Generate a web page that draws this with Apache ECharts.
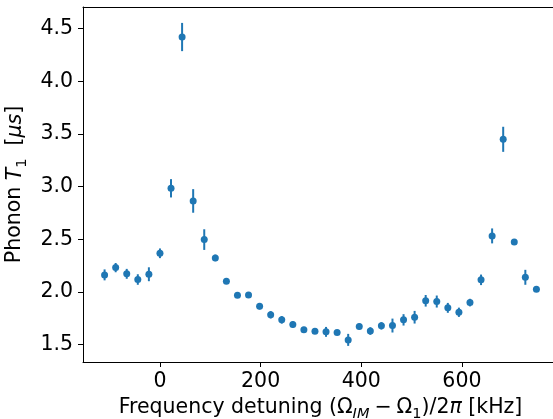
<!DOCTYPE html>
<html>
<head>
<meta charset="utf-8">
<script src="https://cdn.jsdelivr.net/npm/echarts@6/dist/echarts.min.js"></script>
<style>
html,body{margin:0;padding:0;background:#fff;}
#c{width:553px;height:419px;}
</style>
</head>
<body>
<div id="c"></div>
<script>
var detuning = [-110,-88,-66,-44,-22,0,22,44,66,88,110,132,154,176,198,220,242,264,286,308,330,352,374,396,418,440,462,484,506,528,550,572,594,616,638,660,682,704,726,748];
var t1 = [2.163,2.232,2.173,2.119,2.169,2.368,2.985,4.421,2.865,2.498,2.324,2.103,1.970,1.973,1.865,1.784,1.736,1.692,1.641,1.628,1.622,1.616,1.546,1.673,1.630,1.679,1.682,1.736,1.761,1.917,1.910,1.850,1.808,1.900,2.116,2.533,3.450,2.476,2.140,2.027];
var t1Err = [0.052,0.044,0.047,0.05,0.066,0.046,0.087,0.134,0.112,0.098,0.031,0.02,0.01,0.01,0.03,0.035,0.036,0.03,0.028,0.02,0.047,0.02,0.057,0.028,0.036,0.035,0.066,0.054,0.06,0.055,0.057,0.047,0.044,0.036,0.05,0.071,0.119,0.02,0.071,0.015];
var xTicks = [0,200,400,600];
var yTicks = [1.5,2.0,2.5,3.0,3.5,4.0,4.5];

var blue = '#1f77b4';
var font = 'DejaVu Sans';
var FS = 20.5, SFS = 14.5;
var pts = detuning.map(function(x,i){return [x,t1[i]];});
var bars = detuning.map(function(x,i){return [x,t1[i],t1Err[i]];});

var richStyles = {
  n:{fontFamily:font,fontSize:FS,color:'#000',lineHeight:26,verticalAlign:'bottom'},
  m:{fontFamily:font,fontSize:FS,color:'#000',lineHeight:26,verticalAlign:'bottom',padding:[0,5,0,5]},
  i:{fontFamily:font,fontSize:FS,fontStyle:'italic',color:'#000',lineHeight:26,verticalAlign:'bottom'},
  s:{fontFamily:font,fontSize:SFS,color:'#000',lineHeight:20,verticalAlign:'bottom',padding:[0,0,-4,0]},
  si:{fontFamily:font,fontSize:SFS,fontStyle:'italic',color:'#000',lineHeight:20,verticalAlign:'bottom',padding:[0,0,-4,0]}
};

var chart = echarts.init(document.getElementById('c'), null, {renderer:'canvas'});
chart.setOption({
  animation:false,
  backgroundColor:'#fff',
  grid:{left:83,top:7,width:475,height:355,outerBoundsMode:'none',containLabel:false,show:false},
  xAxis:[{
    type:'value',min:-152.9,max:790.9,
    splitLine:{show:false},
    axisLine:{show:true,onZero:false,lineStyle:{color:'#000',width:1}},
    axisTick:{show:true,inside:false,length:5,lineStyle:{color:'#000',width:1},customValues:xTicks},
    axisLabel:{color:'#000',fontFamily:font,fontSize:FS,margin:9,customValues:xTicks,formatter:function(v){return String(v);}},
    name:'{n|Frequency detuning (Ω}{si|IM}{m|−}{n|Ω}{s|1}{n|)/2}{i|π}{n| [kHz]}',
    nameLocation:'middle',nameGap:18,
    nameTextStyle:{color:'#000',fontFamily:font,fontSize:FS,rich:richStyles}
  },{
    type:'value',position:'top',min:-152.9,max:790.9,
    splitLine:{show:false},axisTick:{show:false},axisLabel:{show:false},
    axisLine:{show:true,onZero:false,lineStyle:{color:'#000',width:1}}
  }],
  yAxis:{
    type:'value',min:1.336,max:4.706,
    splitLine:{show:false},
    axisLine:{show:true,onZero:false,lineStyle:{color:'#000',width:1}},
    axisTick:{show:true,inside:false,length:5,lineStyle:{color:'#000',width:1},customValues:yTicks},
    axisLabel:{color:'#000',fontFamily:font,fontSize:FS,margin:10,customValues:yTicks,formatter:function(v){return v.toFixed(1);}},
    name:'{n|Phonon }{i|T}{s|1}{n|  [}{i|μs}{n|]}',
    nameLocation:'middle',nameGap:44,nameRotate:90,
    nameTextStyle:{color:'#000',fontFamily:font,fontSize:FS,rich:richStyles}
  },
  series:[
    {
      type:'custom',
      data:bars,
      z:1,
      renderItem:function(params,api){
        var x=api.value(0),y=api.value(1),e=api.value(2);
        var p1=api.coord([x,y-e]),p2=api.coord([x,y+e]);
        return {type:'line',shape:{x1:p1[0],y1:p1[1],x2:p2[0],y2:p2[1]},style:{stroke:blue,lineWidth:2}};
      }
    },
    {
      type:'scatter',
      data:pts,
      z:2,
      symbol:'circle',symbolSize:7,
      itemStyle:{color:blue,opacity:1}
    }
  ]
});
</script>
</body>
</html>
